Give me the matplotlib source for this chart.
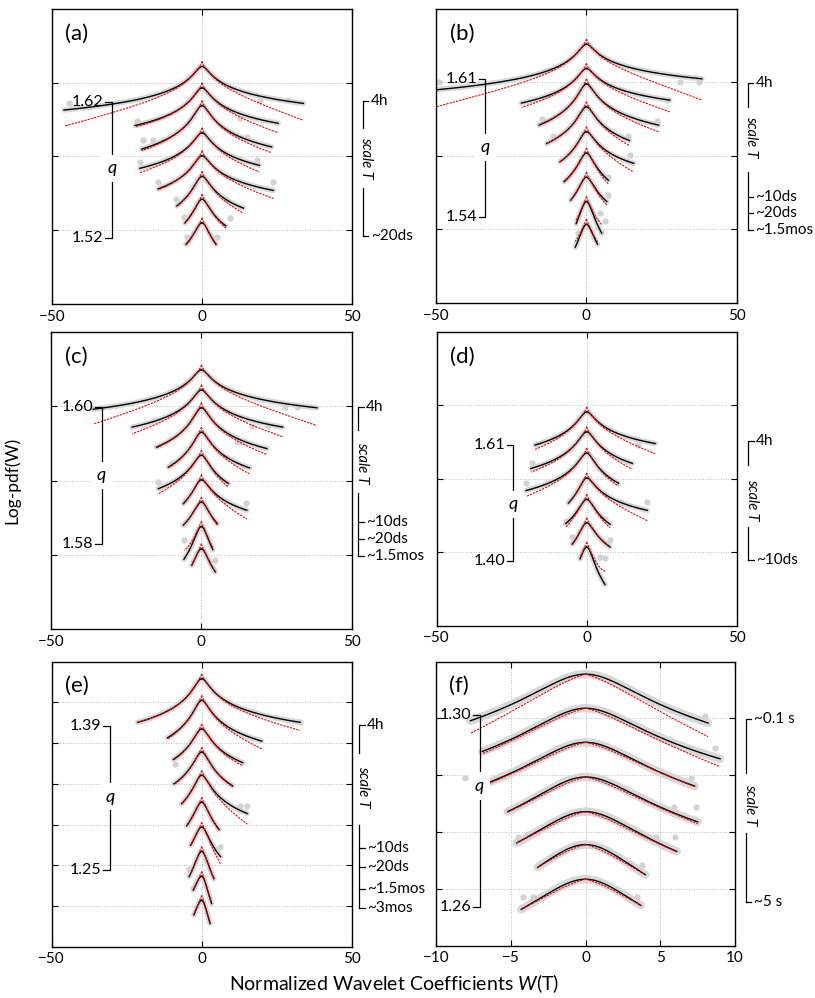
import matplotlib.pyplot as plt
import numpy as np

plt.rcParams['font.family'] = ['Lato', 'DejaVu Sans']
plt.rcParams['mathtext.fontset'] = 'custom'
plt.rcParams['mathtext.it'] = 'Lato:italic'
plt.rcParams['mathtext.rm'] = 'Lato'

# each curve: peak height, then (x end, black y at end, red y at end) for both sides
A_PEAK = [3.22, 2.93, 2.69, 2.32, 2.01, 1.73, 1.42, 1.10]
A_LEFT = [(-46, 2.63, 2.41), (-22.3, 2.42, 2.40), (-20.1, 2.10, 2.08), (-20.7, 1.84, 1.78),
          (-14.6, 1.56, 1.55), (-8.4, 1.33, 1.32), (-5.7, 1.10, 1.09), (-5.3, 0.81, 0.80)]
A_RIGHT = [(33.8, 2.72, 2.49), (25.4, 2.45, 2.32), (23.2, 2.13, 2.05), (19.1, 1.88, 1.79),
           (23.8, 1.54, 1.43), (13.8, 1.30, 1.23), (7.9, 1.06, 1.03), (4.7, 0.81, 0.80)]
A_DOTS = [(-44.2, 2.72), (-21.8, 2.48), (-19.6, 2.22), (-16.2, 2.22), (-12.9, 2.22), (-20.7, 1.93),
          (-14.6, 1.66), (-8.7, 1.43), (-6.0, 1.18), (-5.1, 0.91), (4.9, 0.91), (7.7, 1.43),
          (9.3, 1.16), (12.7, 2.52), (14.9, 2.27), (18.2, 1.95), (19.3, 2.75), (23.8, 1.66), (28.8, 2.76)]

B_PEAK = [3.52, 3.19, 2.98, 2.67, 2.33, 2.04, 1.71, 1.38, 1.07]
B_LEFT = [(-50, 2.90, 2.67), (-21.6, 2.72, 2.66), (-15.7, 2.42, 2.43), (-13.2, 2.17, 2.17),
          (-8.8, 1.92, 1.92), (-7.4, 1.65, 1.66), (-5.2, 1.40, 1.40), (-3.4, 1.08, 1.13), (-3.7, 0.76, 0.84)]
B_RIGHT = [(38.4, 3.05, 2.76), (27.7, 2.76, 2.60), (24.0, 2.42, 2.33), (14.3, 2.21, 2.14),
           (15.7, 1.90, 1.78), (7.3, 1.67, 1.62), (6.8, 1.38, 1.33), (5.1, 0.95, 1.07), (3.7, 0.80, 0.83)]
B_DOTS = [(-49, 3.0), (-14.9, 2.51), (-11, 2.27), (-2.7, 0.95), (4.6, 1.22), (6.2, 1.11), (7.3, 1.71),
          (7.3, 1.47), (14.0, 2.27), (14.6, 2.01), (23.4, 2.48), (26.8, 2.76), (31.2, 3.01), (37.3, 3.0)]

C_PEAK = [3.49, 3.22, 2.98, 2.65, 2.34, 2.01, 1.71, 1.38, 1.08]
C_LEFT = [(-36, 2.96, 2.76), (-23, 2.72, 2.63), (-14.9, 2.45, 2.44), (-11, 2.18, 2.17),
          (-14.3, 1.89, 1.82), (-6, 1.69, 1.68), (-6, 1.40, 1.40), (-5.8, 0.94, 1.06), (-3.2, 0.86, 0.86)]
C_RIGHT = [(38.4, 2.98, 2.74), (27, 2.72, 2.59), (21.8, 2.43, 2.35), (16, 2.17, 2.09),
           (9, 1.96, 1.91), (15.1, 1.60, 1.48), (5.3, 1.42, 1.40), (3.8, 1.07, 1.10), (4.6, 0.77, 0.78)]
C_DOTS = [(-14.3, 1.98), (-9.9, 2.23), (-5.7, 1.20), (4.6, 0.93), (11.8, 2.52), (12.9, 2.52),
          (14.9, 1.70), (16.8, 2.74), (22.3, 2.74), (27.9, 2.99), (31.8, 2.99)]

D_PEAK = [2.91, 2.64, 2.35, 2.01, 1.72, 1.40, 1.07]
D_LEFT = [(-17.2, 2.46, 2.40), (-18.6, 2.14, 2.09), (-20.2, 1.84, 1.76), (-6.1, 1.67, 1.66),
          (-7.0, 1.39, 1.34), (-4.8, 1.11, 1.10), (-2.2, 0.91, 0.93)]
D_RIGHT = [(22.8, 2.48, 2.34), (15.2, 2.21, 2.13), (10.6, 1.94, 1.90), (20.2, 1.57, 1.43),
           (7.8, 1.38, 1.33), (7.8, 1.07, 1.08), (6.1, 0.56, 0.74)]
D_DOTS = [(-20.2, 1.94), (-18.3, 2.21), (-16.7, 2.48), (-7.0, 1.43), (-5.0, 1.21), (4.4, 0.93),
          (6.1, 0.92), (6.1, 1.45), (7.8, 1.16), (11.4, 1.68), (17.2, 2.46), (20.0, 1.68)]

E_PEAK = [6.58, 6.05, 5.35, 4.78, 4.21, 3.55, 2.94, 2.34, 1.73, 1.14]
E_LEFT = [(-21.3, 5.51, 5.51), (-11.4, 5.13, 5.10), (-9.4, 4.60, 4.58), (-9.2, 4.00, 3.98),
          (-6.7, 3.51, 3.50), (-5.0, 2.97, 2.96), (-3.7, 2.49, 2.48), (-4.2, 1.72, 1.72),
          (-2.8, 1.39, 1.40), (-2.6, 0.78, 0.80)]
E_RIGHT = [(32.8, 5.51, 5.31), (20.0, 5.05, 4.86), (13.7, 4.52, 4.44), (10.3, 3.95, 3.93),
           (15.2, 3.27, 3.01), (5.8, 2.88, 2.86), (6.3, 2.21, 2.03), (4.1, 1.67, 1.66),
           (3.3, 1.06, 1.08), (2.8, 0.57, 0.60)]
E_DOTS = [(-8.9, 4.49), (-4.2, 1.92), (-2.8, 1.43), (6.1, 2.45), (12.8, 3.45), (15.0, 3.45), (32.8, 5.51)]

F_PEAK = [4.78, 4.18, 3.58, 2.97, 2.36, 1.78, 1.17]
F_LEFT = [(-7.7, 3.96, 3.74), (-6.9, 3.42, 3.38), (-6.4, 2.88, 2.86), (-5.2, 2.36, 2.35),
          (-4.6, 1.81, 1.81), (-3.2, 1.38, 1.38), (-4.3, 0.64, 0.64)]
F_RIGHT = [(8.2, 3.92, 3.68), (9.0, 3.29, 3.15), (7.3, 2.81, 2.80), (7.5, 2.18, 2.15),
           (6.1, 1.66, 1.65), (4.0, 1.25, 1.25), (3.7, 0.71, 0.71)]
F_DOTS = [(-8.04, 2.95), (-4.53, 1.91), (-3.82, 1.97), (-4.16, 0.85), (-3.53, 0.85), (2.96, 1.45),
          (3.8, 1.42), (3.44, 0.85), (4.73, 1.91), (5.96, 1.91), (4.96, 2.45), (5.89, 2.44),
          (7.36, 2.44), (7.07, 2.95), (6.96, 3.48), (8.69, 3.48), (7.96, 4.04)]

# q range (top, bottom) and scale labels
Q_LABELS = {'a': ('1.62', '1.52'), 'b': ('1.61', '1.54'), 'c': ('1.60', '1.58'),
            'd': ('1.61', '1.40'), 'e': ('1.39', '1.25'), 'f': ('1.30', '1.26')}
SCALE_TOP = {'a': '4h', 'b': '4h', 'c': '4h', 'd': '4h', 'e': '4h', 'f': '~0.1 s'}
SCALE_BOT = {'a': ['~20ds'], 'b': ['~10ds', '~20ds', '~1.5mos'], 'c': ['~10ds', '~20ds', '~1.5mos'],
             'd': ['~10ds'], 'e': ['~10ds', '~20ds', '~1.5mos', '~3mos'], 'f': ['~5 s']}


def draw_curve(ax, y0, left, right, w, tip, tent, band):
    for xe, yb, yr in (left, right):
        x = xe * np.linspace(0, 1, 300) ** 2
        f = np.log1p((x / w) ** 2) / np.log1p((xe / w) ** 2)
        black = y0 - (y0 - yb) * f
        red = black - (yb - yr) * np.abs(x / xe) ** 1.5 + tip * np.exp(-np.abs(x) / 0.5)
        red = (1 - tent) * red + tent * (y0 - (y0 - yr) * np.abs(x / xe))
        ax.plot(x, black, color='#d8d8d8', lw=band, solid_capstyle='round', zorder=1)
        ax.plot(x, black, color='k', lw=1.0, zorder=3)
        ax.plot(x, red, color='#ff0000', lw=0.8, ls=(0, (2, 1)), zorder=4)


def q_bracket(ax, xb, ytop, ybot, yq, labels):
    tr = ax.transAxes
    ax.plot([xb - 0.022, xb, xb, xb - 0.022], [ytop, ytop, ybot, ybot], transform=tr,
            color='k', lw=0.9, zorder=5)
    ax.text(xb - 0.028, ytop, labels[0], transform=tr, ha='right', va='center', fontsize=11.5, zorder=6)
    ax.text(xb - 0.028, ybot, labels[1], transform=tr, ha='right', va='center', fontsize=11.5, zorder=6)
    ax.text(xb, yq, 'q', transform=tr, ha='center', va='center', fontsize=13, style='italic',
            bbox=dict(fc='white', ec='none', pad=4), zorder=6)


def scale_bracket(ax, xb, ytop, yseg1, ysc, yseg2, ybots, top_label, bot_labels):
    tr = ax.transAxes
    kw = dict(transform=tr, clip_on=False, color='k', lw=0.9)
    ax.plot([xb + 0.018, xb, xb], [ytop, ytop, yseg1], **kw)
    ax.text(xb + 0.026, ytop, top_label, transform=tr, ha='left', va='center', fontsize=11)
    ax.text(xb + 0.012, ysc, 'scale T', transform=tr, ha='center', va='center', rotation=-90,
            style='italic', fontsize=10.5)
    ax.plot([xb, xb], [yseg2, ybots[-1]], **kw)
    for y, lab in zip(ybots, bot_labels):
        ax.plot([xb, xb + 0.018], [y, y], **kw)
        ax.text(xb + 0.026, y, lab, transform=tr, ha='left', va='center', fontsize=11)


panels = [
    ('a', [0.0638, 0.6954, 0.3681, 0.2956], A_PEAK, A_LEFT, A_RIGHT, A_DOTS, 4,
     (0.199, 0.683, 0.2225, 0.46), (1.036, 0.689, 0.597, 0.495, 0.393, [0.23])),
    ('b', [0.5350, 0.6964, 0.3690, 0.2946], B_PEAK, B_LEFT, B_RIGHT, B_DOTS, 4,
     (0.164, 0.763, 0.293, 0.53), (1.036, 0.749, 0.668, 0.566, 0.447, [0.362, 0.305, 0.248])),
    ('c', [0.0626, 0.3697, 0.3690, 0.2976], C_PEAK, C_LEFT, C_RIGHT, C_DOTS, 4,
     (0.168, 0.748, 0.288, 0.518), (1.022, 0.748, 0.67, 0.558, 0.457, [0.361, 0.302, 0.246])),
    ('d', [0.5358, 0.3731, 0.3681, 0.2943], D_PEAK, D_LEFT, D_RIGHT, D_DOTS, 4,
     (0.256, 0.615, 0.22, 0.4125), (1.039, 0.627, 0.547, 0.428, 0.337, [0.224])),
    ('e', [0.0634, 0.0514, 0.3681, 0.2856], E_PEAK, E_LEFT, E_RIGHT, E_DOTS, 7,
     (0.194, 0.773, 0.269, 0.526), (1.025, 0.778, 0.679, 0.561, 0.427, [0.345, 0.279, 0.201, 0.135])),
    ('f', [0.5350, 0.0524, 0.3669, 0.2846], F_PEAK, F_LEFT, F_RIGHT, F_DOTS, 5,
     (0.1455, 0.814, 0.138, 0.562), (1.037, 0.797, 0.607, 0.495, 0.396, [0.155])),
]

fig = plt.figure(figsize=(8.15, 9.98), dpi=100)

for key, rect, peaks, lefts, rights, dots, ntop, qb, sb in panels:
    ax = fig.add_axes(rect)
    if key == 'f':
        ax.set_xlim(-10, 10)
        ax.set_xticks([-10, -5, 0, 5, 10])
        w, tip, tent, band = 3.0, 0.0, 0.5, 6
    else:
        ax.set_xlim(-50, 50)
        ax.set_xticks([-50, 0, 50])
        w, tip, tent, band = 2.0, (0.12 if key == 'e' else 0.07), 0.0, 4
    ax.set_ylim(0, ntop)
    ax.set_yticks(range(1, ntop))
    ax.set_yticklabels([])
    ax.grid(True, ls=':', color='#bdbdbd', lw=0.7)
    ax.set_axisbelow(True)
    ax.tick_params(direction='in', length=4, width=0.8, top=True, right=True,
                   labelsize=11, pad=4)
    for sp in ax.spines.values():
        sp.set_linewidth(1.0)

    for y0, lft, rgt in zip(peaks, lefts, rights):
        draw_curve(ax, y0, lft, rgt, w, tip, tent, band)
    dx, dy = zip(*dots)
    ax.plot(dx, dy, 'o', color='#d2d2d2', ms=4.5, mec='none', zorder=1)

    q_bracket(ax, *qb, Q_LABELS[key])
    scale_bracket(ax, *sb, SCALE_TOP[key], SCALE_BOT[key])
    ax.text(0.045, 0.915, f'({key})', transform=ax.transAxes, ha='left', va='center', fontsize=16)

fig.text(0.015, 0.519, 'Log-pdf(W)', rotation=90, ha='center', va='center', fontsize=12.5)
fig.text(0.483, 0.014, 'Normalized Wavelet Coefficients $W$(T)', ha='center', va='center', fontsize=14)

fig.savefig('out.png', dpi=100)
